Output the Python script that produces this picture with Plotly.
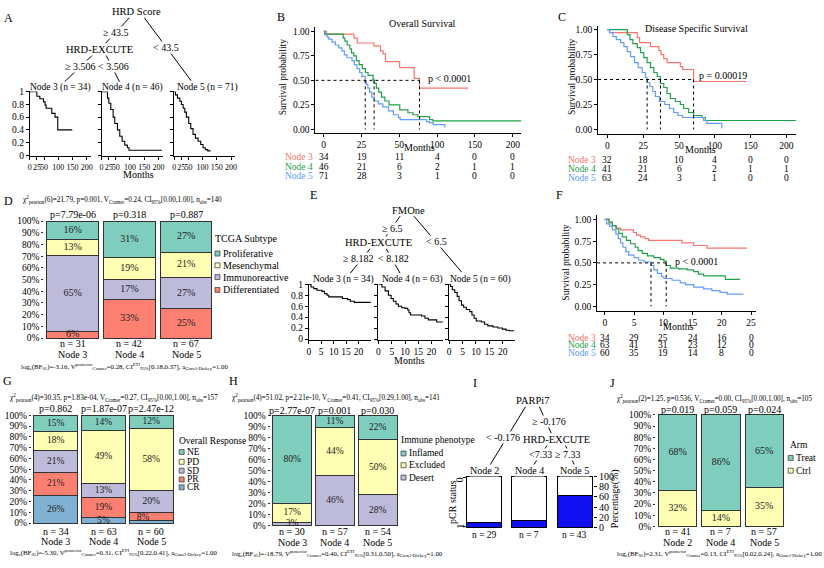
import plotly.graph_objects as go

W, H = 824, 568
FONT = "Liberation Serif, Times New Roman, DejaVu Serif, serif"

RED, GREEN, BLUE = "#F8766D", "#1FA24A", "#619CFF"
TEAL, YELLOW, LAV, SALMON, SKY = "#7FCDBD", "#FFFFB3", "#BEBADA", "#FB8072", "#80B1D3"
PCR_BLUE = "#1010EE"

# ======================= DATA =======================
# Panel A – survival tree (HRD Score / HRD-EXCUTE), months
a_node3_t = [0, 24.5, 35, 47.8, 53.6, 57, 77, 88.5, 98, 149]
a_node3_s = [1.00, 0.93, 0.89, 0.84, 0.79, 0.74, 0.66, 0.60, 0.40, 0.40]
a_node4_t = [0, 21, 25.6, 32.6, 40.8, 46.6, 55.9, 64.1, 72.3, 81.6, 90.9, 96.7, 212]
a_node4_s = [1.00, 0.90, 0.82, 0.72, 0.60, 0.50, 0.40, 0.30, 0.22, 0.16, 0.12, 0.08, 0.08]
a_node5_t = [0, 4.6, 11.6, 19.8, 25.6, 31.5, 37.3, 43.1, 51.3, 58.3, 66.4, 74.6, 83.9, 93.2, 101.4, 109.5, 118, 128]
a_node5_s = [1.00, 0.95, 0.90, 0.85, 0.80, 0.74, 0.68, 0.60, 0.50, 0.42, 0.33, 0.27, 0.22, 0.17, 0.12, 0.09, 0.07, 0.07]
a_ticks = [0, 25, 50, 100, 150, 200]

# Panel B – Overall Survival
km_tickvals = [0, 40, 80, 120, 160, 200]
km_ticktext = ["0", "25", "50", "100", "150", "200"]
b_node3_t = [0, 3, 32, 35.5, 53, 60, 62.8, 65.3, 80.3, 95.7, 101.3, 152.8]
b_node3_s = [1.00, 0.97, 0.93, 0.88, 0.85, 0.80, 0.77, 0.69, 0.63, 0.52, 0.42, 0.42]
b_node4_t = [0, 1, 20.6, 22.4, 24.8, 27.6, 29.4, 31.8, 34.6, 37.4, 40.9, 44.1, 46.9, 52.2, 53.3,
             55.7, 58.2, 61.1, 64.6, 69.1, 80.4, 89.1, 94.4, 99.6, 111.9, 115.4, 208.8]
b_node4_s = [1.00, 0.97, 0.93, 0.90, 0.86, 0.82, 0.78, 0.75, 0.70, 0.66, 0.62, 0.58, 0.55, 0.51, 0.47,
             0.42, 0.38, 0.33, 0.29, 0.25, 0.20, 0.17, 0.15, 0.13, 0.10, 0.087, 0.087]
b_node5_t = [0, 1.8, 3.6, 5.3, 8.8, 12.3, 15.8, 19.3, 21.8, 24.6, 29.9, 32.3, 35.1, 38.0, 40.4, 43.9,
             45.0, 46.7, 48.5, 50.9, 53.4, 57.9, 62.5, 68.5, 73.7, 79.0, 80.8, 108.8, 111.6, 115.8, 128.1]
b_node5_s = [1.00, 0.96, 0.94, 0.92, 0.89, 0.86, 0.83, 0.80, 0.76, 0.73, 0.70, 0.66, 0.62, 0.58, 0.54, 0.49,
             0.46, 0.42, 0.38, 0.33, 0.29, 0.26, 0.23, 0.19, 0.15, 0.12, 0.10, 0.08, 0.07, 0.05, 0.02]
b_medians = [101.3, 53.3, 43.9]
b_risk_node3 = [34, 19, 11, 4, 0, 0]
b_risk_node4 = [46, 21, 6, 2, 1, 1]
b_risk_node5 = [71, 28, 3, 1, 0, 0]

# Panel C – Disease Specific Survival
c_node3_t = [0, 2.4, 33.4, 36, 48.2, 57.5, 60, 63, 66.7, 81.5, 84.1, 96.3, 155.6]
c_node3_s = [1.00, 0.97, 0.92, 0.87, 0.83, 0.79, 0.75, 0.71, 0.67, 0.63, 0.60, 0.48, 0.48]
c_node4_t = [0, 22.3, 25.2, 28.5, 33.4, 37, 40.7, 44.4, 48.2, 51.9, 55.6, 59.3, 63, 66.7, 70.4, 75.9,
             81.5, 85.2, 90.7, 96.3, 105.6, 109.3, 211.2]
c_node4_s = [1.00, 0.95, 0.90, 0.86, 0.82, 0.77, 0.72, 0.67, 0.62, 0.57, 0.53, 0.46, 0.42, 0.36, 0.31, 0.28,
             0.25, 0.21, 0.17, 0.14, 0.12, 0.09, 0.09]
c_node5_t = [0, 2.6, 6.3, 10, 14.8, 18.5, 22.2, 25.9, 30.4, 34.4, 38.9, 42.6, 44.4, 47.4, 50.7, 53.7,
             58.1, 64.1, 69.3, 74.1, 78.9, 84.1, 107.4, 111.1, 127.8]
c_node5_s = [1.00, 0.97, 0.93, 0.90, 0.87, 0.83, 0.78, 0.73, 0.67, 0.62, 0.57, 0.52, 0.47, 0.43, 0.38, 0.33,
             0.28, 0.25, 0.21, 0.17, 0.14, 0.12, 0.09, 0.06, 0.01]
c_medians = [96.3, 59.3, 44.4]
c_risk_node3 = [32, 18, 10, 4, 0, 0]
c_risk_node4 = [41, 21, 6, 2, 1, 1]
c_risk_node5 = [63, 24, 3, 1, 0, 0]

# Panel E – survival tree (FMOne / HRD-EXCUTE), months
e_ticks = [0, 5, 10, 15, 20]
e_node3_t = [0, 0.9, 2, 3.3, 5.3, 6.3, 7.3, 8, 13.5, 15.6, 16.7, 18.3, 24.9]
e_node3_s = [1.00, 0.95, 0.92, 0.89, 0.87, 0.83, 0.80, 0.77, 0.74, 0.72, 0.69, 0.67, 0.67]
e_node4_t = [0, 1.3, 2.5, 3.75, 4.75, 5.6, 6.6, 7.5, 8.75, 10, 11, 11.5, 12.1, 16.25, 17.5, 18.75, 21.9, 24.4]
e_node4_s = [1.00, 0.95, 0.88, 0.80, 0.74, 0.69, 0.64, 0.60, 0.57, 0.56, 0.53, 0.48, 0.44, 0.42, 0.38, 0.35, 0.31, 0.31]
e_node5_t = [0, 0.5, 1.2, 2.1, 3.0, 3.7, 4.6, 5.4, 6.4, 7.7, 8.5, 9.3, 10.1, 12.0, 13.2, 14.4, 16.3, 18.1,
             19.8, 21.2, 22.5, 24.3]
e_node5_s = [1.00, 0.96, 0.90, 0.85, 0.78, 0.70, 0.62, 0.58, 0.54, 0.50, 0.44, 0.38, 0.33, 0.31, 0.27, 0.24,
             0.22, 0.20, 0.18, 0.16, 0.15, 0.15]

# Panel F – survival by FMOne tree nodes
f_ticks = [0, 5, 10, 15, 20, 25]
f_node3_t = [0, 0.74, 1.3, 2.0, 2.7, 4.9, 5.4, 6.1, 6.9, 7.5, 13.2, 15.2, 17.5, 24.3]
f_node3_s = [1.00, 0.96, 0.93, 0.90, 0.88, 0.85, 0.82, 0.80, 0.78, 0.76, 0.73, 0.70, 0.67, 0.67]
f_node4_t = [0, 0.74, 1.3, 1.9, 2.4, 3.0, 3.7, 4.4, 5.2, 5.7, 6.4, 7.3, 8.4, 9.5, 10.1, 10.5, 11.2, 12.6,
             14.1, 15.2, 16.0, 16.9, 20.6, 23.1]
f_node4_s = [1.00, 0.97, 0.93, 0.89, 0.84, 0.80, 0.76, 0.72, 0.68, 0.64, 0.61, 0.58, 0.56, 0.54, 0.52, 0.47,
             0.44, 0.43, 0.42, 0.40, 0.37, 0.35, 0.31, 0.31]
f_node5_t = [0, 0.34, 0.85, 1.3, 1.9, 2.3, 2.7, 3.1, 3.6, 4.1, 5.0, 5.8, 6.7, 7.9, 8.4, 9.0, 9.7, 10.1, 11.5,
             12.9, 13.8, 15.2, 16.9, 18.3, 19.7, 20.9, 23.7]
f_node5_s = [1.00, 0.95, 0.92, 0.88, 0.83, 0.78, 0.73, 0.68, 0.63, 0.59, 0.56, 0.53, 0.51, 0.47, 0.42, 0.38,
             0.34, 0.32, 0.30, 0.27, 0.25, 0.22, 0.20, 0.18, 0.16, 0.14, 0.14]
f_medians = [7.9, 10.5]
f_risk_node3 = [34, 29, 25, 24, 16, 0]
f_risk_node4 = [63, 41, 31, 23, 12, 0]
f_risk_node5 = [60, 35, 19, 14, 8, 0]

# Panel D – TCGA subtype (%)
d_nodes = ["Node 3", "Node 4", "Node 5"]
d_n = [31, 42, 67]
d_p = ["p=7.79e-06", "p=0.318", "p=0.887"]
d_differentiated = [6, 33, 25]
d_immunoreactive = [65, 17, 27]
d_mesenchymal = [13, 19, 21]
d_proliferative = [16, 31, 27]

# Panel G – Overall response (%)
g_nodes = ["Node 3", "Node 4", "Node 5"]
g_n = [34, 63, 60]
g_p = ["p=0.862", "p=1.87e-07", "p=2.47e-12"]
g_cr = [26, 5, 2]
g_pr = [21, 19, 8]
g_sd = [21, 13, 20]
g_pd = [18, 49, 58]
g_ne = [15, 14, 12]

# Panel H – Immune phenotype (%)
h_nodes = ["Node 3", "Node 4", "Node 5"]
h_n = [30, 57, 54]
h_p = ["p=2.77e-07", "p=0.001", "p=0.030"]
h_desert = [3, 46, 28]
h_excluded = [17, 44, 50]
h_inflamed = [80, 11, 22]

# Panel I – PARPi7 tree, pCR rate (%)
i_nodes = ["Node 2", "Node 4", "Node 5"]
i_n = [29, 7, 43]
i_pcr = [10, 14, 63]

# Panel J – Arm (%)
j_nodes = ["Node 2", "Node 4", "Node 5"]
j_n = [41, 7, 57]
j_p = ["p=0.019", "p=0.059", "p=0.024"]
j_ctrl = [32, 14, 35]
j_treat = [68, 86, 65]

pct_ticks = list(range(0, 101, 10))

# ======================= HELPERS =======================
fig = go.Figure()
_n = [0]


def val(m, p):
    v1, p1, v2, p2 = m
    return v1 + (p - p1) * (v2 - v1) / (p2 - p1)


def axes(box, xmap, ymap, xkw=None, ykw=None):
    _n[0] += 1
    k = _n[0]
    x0, y0, x1, y1 = box
    sfx = "" if k == 1 else str(k)
    xn, yn = "x" + sfx, "y" + sfx
    base = dict(showgrid=False, zeroline=False, showline=False, ticks="", showticklabels=False, tickangle=0,
                tickfont=dict(family=FONT, size=9, color="black"), fixedrange=True)
    xa = dict(base, domain=[x0 / W, x1 / W], range=[val(xmap, x0), val(xmap, x1)], anchor=yn)
    ya = dict(base, domain=[1 - y1 / H, 1 - y0 / H], range=[val(ymap, y1), val(ymap, y0)], anchor=xn)
    xa.update(xkw or {})
    ya.update(ykw or {})
    fig.update_layout(**{"xaxis" + sfx: xa, "yaxis" + sfx: ya})
    return xn, yn, xa["range"], ya["range"]


def txt(x, y, s, size=10, color="black", xa="center", ya="middle", angle=0, bg=None, xref="paper"):
    fig.add_annotation(x=x / W if xref == "paper" else x, y=1 - y / H, xref=xref, yref="paper",
                       text=s, showarrow=False, xanchor=xa, yanchor=ya, textangle=angle,
                       font=dict(family=FONT, size=size, color=color), bgcolor=bg, borderpad=0)


def seg(x0, y0, x1, y1, w=1, color="black"):
    fig.add_shape(type="line", xref="paper", yref="paper", x0=x0 / W, y0=1 - y0 / H,
                  x1=x1 / W, y1=1 - y1 / H, line=dict(color=color, width=w))


def key(x, y, color, s=5):
    fig.add_shape(type="rect", xref="paper", yref="paper", x0=x / W, x1=(x + s) / W,
                  y0=1 - (y + s / 2) / H, y1=1 - (y - s / 2) / H, fillcolor=color,
                  line=dict(color="#444", width=0.8))


def line(xn, yn, t, s, color, w=1.2, dash=None, shape="hv"):
    fig.add_trace(go.Scatter(x=t, y=s, mode="lines", xaxis=xn, yaxis=yn, showlegend=False,
                             hoverinfo="skip", line=dict(shape=shape, color=color, width=w, dash=dash)))


def medians(xn, yn, meds, x_start):
    line(xn, yn, [x_start, max(meds)], [0.5, 0.5], "black", 1, "dot", "linear")
    for m in meds:
        line(xn, yn, [m, m], [0.5, 0], "black", 1, "dot", "linear")


def risk(xn, times, rows, ys, label_x):
    for (name, color, counts), y in zip(rows, ys):
        txt(label_x, y, name, 9.5, color, xa="right")
        for t, c in zip(times, counts):
            txt(t, y, str(c), 9.5, xref=xn)


def stacked(xn, yn, series, colors, width, size=10, offsets=None):
    offsets = offsets or {}
    n = len(series[0])
    xs = list(range(n))
    totals = [sum(s[i] for s in series) for i in xs]
    cum = [0.0] * n
    for si, (vals, col) in enumerate(zip(series, colors)):
        h = [100.0 * v / tot for v, tot in zip(vals, totals)]
        fig.add_trace(go.Bar(x=xs, y=h, width=width, xaxis=xn, yaxis=yn, showlegend=False, hoverinfo="skip",
                             marker=dict(color=col, line=dict(color="#333", width=1))))
        lx, ly = [], []
        for i in xs:
            dx, dy = offsets.get((si, i), (0, 0))
            lx.append(i + dx)
            ly.append(cum[i] + h[i] / 2 + dy)
        fig.add_trace(go.Scatter(x=lx, y=ly, mode="text", text=[f"{v}%" for v in vals], xaxis=xn, yaxis=yn,
                                 textfont=dict(family=FONT, size=size, color="#222"), showlegend=False,
                                 hoverinfo="skip", cliponaxis=False))
        cum = [c + hh for c, hh in zip(cum, h)]


KMX = dict(showline=True, linecolor="black", linewidth=1, ticks="outside", ticklen=3, tickcolor="black",
           showticklabels=True, tickfont=dict(family=FONT, size=9.5, color="black"))


def bar_axes(box, xmap, ymap, nodes, ns, p_labels, p_y, n_y, node_y, size=10):
    out = axes(box, xmap, ymap,
               ykw=dict(tickvals=pct_ticks, ticktext=[f"{v}%" for v in pct_ticks], showticklabels=True,
                        ticks="outside", ticklen=2, tickcolor="#333",
                        tickfont=dict(family=FONT, size=9.5, color="black")))
    xn = out[0]
    for i, (nd, n, p) in enumerate(zip(nodes, ns, p_labels)):
        txt(i, p_y, p, 10, xref=xn)
        txt(i, n_y, f"n = {n}", size, xref=xn)
        txt(i, node_y, nd, size, xref=xn)
    return out


WH = "rgba(255,255,255,1)"
STAT = 7.2
STAT_B = 6.8

# ======================= PANEL A =======================
txt(7, 13, "A", 12)
txt(135, 7, "HRD Score", 10.5)
seg(128, 13, 104, 39)
seg(143, 13, 190, 77)
txt(115, 28, "≥ 43.5", 10, bg=WH)
txt(165, 43, "< 43.5", 10, bg=WH)
txt(98, 45, "HRD-EXCUTE", 10.5, bg=WH)
seg(92, 50, 63, 78)
seg(104, 50, 118, 78)
txt(79, 63, "≥ 3.506", 10, bg=WH)
txt(112, 63, "< 3.506", 10, bg=WH)
txt(59, 84, "Node 3 (n = 34)", 9.5)
txt(131, 84, "Node 4 (n = 46)", 9.5)
txt(206, 84, "Node 5 (n = 71)", 9.5)
for i, (x0, t, s) in enumerate([(28, a_node3_t, a_node3_s), (100, a_node4_t, a_node4_s),
                                (173, a_node5_t, a_node5_s)]):
    xn, yn, _, _ = axes((x0, 88, x0 + 61.5, 154), (0, x0, 100, x0 + 28.6), (0, 153, 1, 88.3),
                        xkw=dict(KMX, tickvals=a_ticks, tickfont=dict(family=FONT, size=8, color="black")),
                        ykw=dict(KMX, tickvals=[0, 0.2, 0.4, 0.6, 0.8, 1], ticktext=["0", "0.2", "0.4", "0.6", "0.8", "1"],
                                 showticklabels=(i == 0)))
    line(xn, yn, t, s, "black", 1.1)
txt(137, 173, "Months", 10)

# ======================= PANEL B =======================
txt(280, 12, "B", 12)
xn, yn, xr, _ = axes((315, 22, 522, 130), (0, 323.3, 200, 513.3), (0, 126.7, 1, 26.7),
                     xkw=dict(KMX, tickvals=km_tickvals, ticktext=km_ticktext),
                     ykw=dict(KMX, tickvals=[0, 0.25, 0.5, 0.75, 1], ticktext=["0.00", "0.25", "0.50", "0.75", "1.00"]))
line(xn, yn, b_node3_t, b_node3_s, RED)
line(xn, yn, b_node4_t, b_node4_s, GREEN)
line(xn, yn, b_node5_t, b_node5_s, BLUE)
medians(xn, yn, b_medians, xr[0])
txt(423, 19, "Overall Survival", 10)
txt(427, 75, "p < 0.0001", 10, xa="left")
txt(420, 145, "Months", 10)
txt(282, 73, "Survival probability", 9.5, angle=-90)
risk(xn, km_tickvals, [("Node 3", RED, b_risk_node3), ("Node 4", GREEN, b_risk_node4),
                       ("Node 5", BLUE, b_risk_node5)], [154.5, 164.5, 174], 314)

# ======================= PANEL C =======================
txt(563, 12, "C", 12)
xn, yn, xr, _ = axes((599, 21, 798, 131), (0, 608.3, 200, 788.3), (0, 126.7, 1, 25),
                     xkw=dict(KMX, tickvals=km_tickvals, ticktext=km_ticktext),
                     ykw=dict(KMX, tickvals=[0, 0.25, 0.5, 0.75, 1], ticktext=["0.00", "0.25", "0.50", "0.75", "1.00"]))
line(xn, yn, c_node3_t, c_node3_s, RED)
line(xn, yn, c_node4_t, c_node4_s, GREEN)
line(xn, yn, c_node5_t, c_node5_s, BLUE)
medians(xn, yn, c_medians, xr[0])
txt(698, 24, "Disease Specific Survival", 10)
txt(699, 72, "p = 0.00019", 10, xa="left")
txt(702, 147, "Months", 10)
txt(572, 73, "Survival probability", 9.5, angle=-90)
risk(xn, km_tickvals, [("Node 3", RED, c_risk_node3), ("Node 4", GREEN, c_risk_node4),
                       ("Node 5", BLUE, c_risk_node5)], [157.5, 167, 176], 598)

# ======================= PANEL D =======================
txt(7, 200, "D", 12)
txt(20, 199, "χ<sup>2</sup><sub>pearson</sub>(6)=21.79, p=0.001, V<sub>Cramer</sub>=0.24, "
             "CI<sub>95%</sub>[0.00,1.00], n<sub>obs</sub>=140", STAT, xa="left")
xn, yn, _, _ = bar_axes((42.5, 218.8, 213.5, 340.2), (0, 71, 1, 128), (0, 339, 100, 220), d_nodes, d_n,
                        d_p, 213, 344.5, 355.5)
stacked(xn, yn, [d_differentiated, d_immunoreactive, d_mesenchymal, d_proliferative],
        [SALMON, LAV, YELLOW, TEAL], 0.912)
txt(18, 368, "log<sub>e</sub>(BF<sub>01</sub>)=-3.16, V<sup>posterior</sup><sub>Cramer</sub>=0.28, "
             "CI<sup>ETI</sup><sub>95%</sub>[0.18,0.37], a<sub>Gunel-Dickey</sub>=1.00", STAT_B, xa="left")
txt(213, 238, "TCGA Subtype", 10, xa="left")
for y, c, lab in [(253, TEAL, "Proliferative"), (265, YELLOW, "Mesenchymal"),
                  (277, LAV, "Immunoreactive"), (290, SALMON, "Differentiated")]:
    key(214, y, c)
    txt(221, y, lab, 10, xa="left")

# ======================= PANEL E =======================
txt(313, 193, "E", 12)
txt(408, 209, "FMOne", 10.5)
seg(400, 215, 385, 237)
seg(414, 215, 462, 272)
txt(392, 227, "≥ 6.5", 10, bg=WH)
txt(437, 241, "< 6.5", 10, bg=WH)
txt(378, 242, "HRD-EXCUTE", 10.5, bg=WH)
seg(370, 248, 350, 273)
seg(386, 248, 400, 273)
txt(358, 258, "≥ 8.182", 10, bg=WH)
txt(393, 258, "< 8.182", 10, bg=WH)
txt(343, 279, "Node 3 (n = 34)", 9.5)
txt(412, 279, "Node 4 (n = 63)", 9.5)
txt(481, 279, "Node 5 (n = 60)", 9.5)
for i, (x0, x20, x1, t, s) in enumerate([(308.3, 358.3, 371, e_node3_t, e_node3_s),
                                         (378.3, 431.7, 443, e_node4_t, e_node4_s),
                                         (449.3, 503.3, 515, e_node5_t, e_node5_s)]):
    xn, yn, _, _ = axes((x0, 284, x1, 341), (0, x0, 20, x20), (0, 340, 1, 284.3),
                        xkw=dict(KMX, tickvals=e_ticks),
                        ykw=dict(KMX, tickvals=[0, 0.2, 0.4, 0.6, 0.8, 1], ticktext=["0", "0.2", "0.4", "0.6", "0.8", "1"],
                                 showticklabels=(i == 0)))
    line(xn, yn, t, s, "black", 1.1)
txt(409, 362, "Months", 10)

# ======================= PANEL F =======================
txt(560, 193, "F", 12)
xn, yn, xr, _ = axes((598, 214, 758, 311), (0, 605.7, 25, 752.7), (0, 306.7, 1, 218.3),
                     xkw=dict(KMX, tickvals=f_ticks),
                     ykw=dict(KMX, tickvals=[0, 0.25, 0.5, 0.75, 1], ticktext=["0.00", "0.25", "0.50", "0.75", "1.00"]))
line(xn, yn, f_node3_t, f_node3_s, RED)
line(xn, yn, f_node4_t, f_node4_s, GREEN)
line(xn, yn, f_node5_t, f_node5_s, BLUE)
medians(xn, yn, f_medians, xr[0])
txt(675, 261, "p < 0.0001", 10, xa="left")
txt(680, 327, "Months", 10)
txt(567, 262, "Survival probability", 9.5, angle=-90)
risk(xn, f_ticks, [("Node 3", RED, f_risk_node3), ("Node 4", GREEN, f_risk_node4),
                   ("Node 5", BLUE, f_risk_node5)], [338.5, 346.5, 354.5], 598)

# ======================= PANEL G =======================
txt(6, 383, "G", 12)
txt(7, 400, "χ<sup>2</sup><sub>pearson</sub>(4)=30.35, p=1.83e-04, V<sub>Cramer</sub>=0.27, "
            "CI<sub>95%</sub>[0.00,1.00], n<sub>obs</sub>=157", STAT, xa="left")
xn, yn, _, _ = bar_axes((30, 416.6, 174, 528.4), (0, 54, 1, 102), (0, 527.3, 100, 417.7), g_nodes, g_n,
                        g_p, 411, 536, 546.5)
stacked(xn, yn, [g_cr, g_pr, g_sd, g_pd, g_ne], [SKY, SALMON, LAV, YELLOW, TEAL], 0.917, 9.5,
        offsets={(1, 2): (-0.17, -0.7), (0, 2): (0.2, -2.4)})
txt(7, 557.5, "log<sub>e</sub>(BF<sub>01</sub>)=-5.30, V<sup>posterior</sup><sub>Cramer</sub>=0.31, "
              "CI<sup>ETI</sup><sub>95%</sub>[0.22,0.41], a<sub>Gunel-Dickey</sub>=1.00", STAT_B, xa="left")
txt(177, 444, "Overall Response", 9.5, xa="left")
for y, c, lab in [(455, TEAL, "NE"), (465, YELLOW, "PD"), (474, LAV, "SD"), (483, SALMON, "PR"), (491, SKY, "CR")]:
    key(178, y, c)
    txt(185, y, lab, 9.5, xa="left")

# ======================= PANEL H =======================
txt(233, 383, "H", 12)
txt(230, 400, "χ<sup>2</sup><sub>pearson</sub>(4)=51.02, p=2.21e-10, V<sub>Cramer</sub>=0.41, "
              "CI<sub>95%</sub>[0.29,1.00], n<sub>obs</sub>=141", STAT, xa="left")
xn, yn, _, _ = bar_axes((270, 416.9, 399.5, 531.1), (0, 291.5, 1, 334.5), (0, 530, 100, 418), h_nodes, h_n,
                        h_p, 413, 536, 547)
stacked(xn, yn, [h_desert, h_excluded, h_inflamed], [LAV, YELLOW, TEAL], 0.907, 9.5)
txt(230, 558, "log<sub>e</sub>(BF<sub>01</sub>)=-18.79, V<sup>posterior</sup><sub>Cramer</sub>=0.40, "
              "CI<sup>ETI</sup><sub>95%</sub>[0.31,0.50], a<sub>Gunel-Dickey</sub>=1.00", STAT_B, xa="left")
txt(400, 443, "Immune phenotype", 9.5, xa="left")
for y, c, lab in [(456.5, TEAL, "Inflamed"), (468.5, YELLOW, "Excluded"), (481, LAV, "Desert")]:
    key(401, y, c)
    txt(408, y, lab, 9.5, xa="left")

# ======================= PANEL I =======================
txt(475, 385, "I", 12)
txt(533, 403, "PARPi7", 10.5)
seg(526, 409, 490, 469)
seg(540, 409, 552, 436)
txt(550, 424, "≥ -0.176", 10, bg=WH)
txt(503, 440, "< -0.176", 10, bg=WH)
txt(557, 442, "HRD-EXCUTE", 10.5, bg=WH)
seg(548, 448, 533, 470)
seg(566, 448, 576, 470)
txt(541, 458, "<7.33", 10, bg=WH)
txt(569, 458, "≥ 7.33", 10, bg=WH)
xn, yn, _, _ = axes((466, 479, 594, 533), (0, 484.5, 2, 575.5), (0, 532, 100, 480),
                    ykw=dict(side="right", tickvals=[0, 20, 40, 60, 80, 100], showticklabels=True, ticks="outside",
                             ticklen=3, tickcolor="black", tickfont=dict(family=FONT, size=10, color="black")))
i_rest = [100 - v for v in i_pcr]
fig.add_trace(go.Bar(x=[0, 1, 2], y=i_pcr, width=0.77, xaxis=xn, yaxis=yn, showlegend=False, hoverinfo="skip",
                     marker=dict(color=PCR_BLUE, line=dict(color="black", width=1))))
fig.add_trace(go.Bar(x=[0, 1, 2], y=i_rest, width=0.77, xaxis=xn, yaxis=yn, showlegend=False, hoverinfo="skip",
                     marker=dict(color="white", line=dict(color="black", width=1))))
for i, (nd, n) in enumerate(zip(i_nodes, i_n)):
    txt(i, 474, nd, 10, xref=xn, bg=WH)
    txt(i, 539.5, f"n = {n}", 9.5, xref=xn)
txt(452, 506, "pCR status", 10, angle=-90)
txt(461, 483, "0", 9.5, angle=-90)
txt(461, 530, "1", 9.5, angle=-90)
seg(463, 481, 466, 481)
seg(463, 531, 466, 531)
txt(616, 503, "Percentage(%)", 10, angle=-90)

# ======================= PANEL J =======================
txt(613, 385, "J", 12)
txt(617, 401, "χ<sup>2</sup><sub>pearson</sub>(2)=1.25, p=0.536, V<sub>Cramer</sub>=0.00, "
              "CI<sub>95%</sub>[0.00,1.00], n<sub>obs</sub>=105", STAT, xa="left")
xn, yn, _, _ = bar_axes((657.25, 416.2, 787.75, 531.8), (0, 679, 1, 722.5), (0, 530.7, 100, 417.3), j_nodes, j_n,
                        j_p, 412, 536, 547)
stacked(xn, yn, [j_ctrl, j_treat], [YELLOW, TEAL], 0.885, 10)
txt(617, 558, "log<sub>e</sub>(BF<sub>01</sub>)=2.31, V<sup>posterior</sup><sub>Cramer</sub>=0.13, "
              "CI<sup>ETI</sup><sub>95%</sub>[0.02,0.24], a<sub>Gunel-Dickey</sub>=1.00", STAT_B, xa="left")
txt(791, 448, "Arm", 9.5, xa="left")
for y, c, lab in [(461, TEAL, "Treat"), (474, YELLOW, "Ctrl")]:
    key(790, y, c)
    txt(797, y, lab, 9.5, xa="left")

fig.update_layout(width=W, height=H, autosize=False, margin=dict(l=0, r=0, t=0, b=0),
                  paper_bgcolor="white", plot_bgcolor="white", barmode="stack", showlegend=False,
                  font=dict(family=FONT, color="black"))
fig.write_html("out.html", config={"displayModeBar": False},
               post_script="document.body.style.margin='0px';document.body.style.overflow='hidden';")
